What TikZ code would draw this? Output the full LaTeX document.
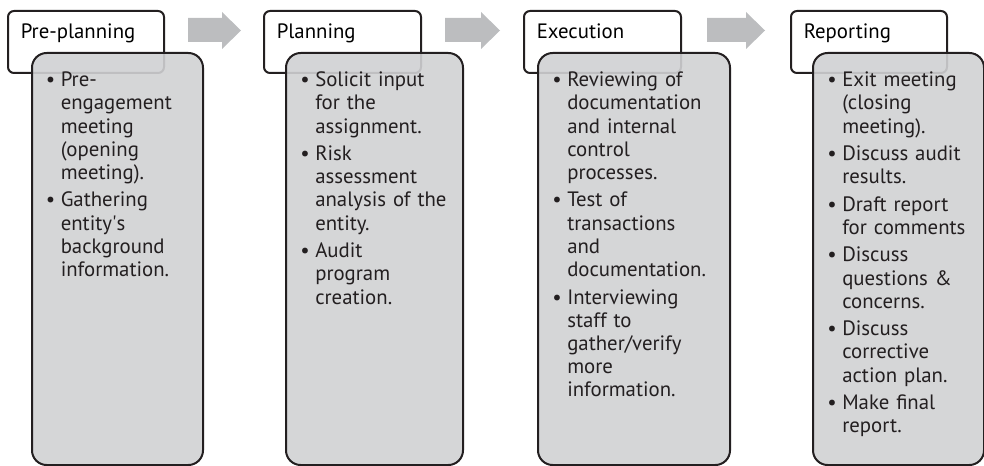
\documentclass[tikz,border=0pt]{standalone}
\usepackage{fontspec}
\setmainfont{PT Sans}
\definecolor{edge}{HTML}{231F20}
\definecolor{panel}{HTML}{D0D1D3}
\definecolor{flow}{HTML}{BCBDBF}
\newcommand{\itm}{\leavevmode\llap{\textbullet\hspace{4.2pt}}}
\begin{document}
\begin{tikzpicture}[x=0.75pt,y=-0.75pt,
  titlebox/.style={draw=edge, line width=1.5pt, fill=white, rounded corners=4.5pt,
    inner sep=0pt, anchor=north west},
  panelbox/.style={draw=edge, line width=1.5pt, fill=panel, fill opacity=0.9,
    draw opacity=1, rounded corners=11pt, inner sep=0pt, anchor=north west},
  titletext/.style={anchor=base west, inner sep=0pt,
    font=\fontsize{15.6pt}{17.4pt}\selectfont},
  itemtext/.style={anchor=base west, inner sep=0pt, text width=125pt, align=left,
    font=\fontsize{15.6pt}{17.4pt}\selectfont, text=edge},
  blockarrow/.style={fill=flow, draw=none}
]
\useasboundingbox (0,0) rectangle (984,466);

% stage headers (drawn first so the panels overlap them)
\node[titlebox, minimum width=117pt, minimum height=46.5pt] (h1) at (7,10) {};
\node[titlebox, minimum width=117.75pt, minimum height=46.5pt] (h2) at (263,10) {};
\node[titlebox, minimum width=117.75pt, minimum height=46.5pt] (h3) at (523,10) {};
\node[titlebox, minimum width=117pt, minimum height=46.5pt] (h4) at (790,10) {};

\node[titletext] (h1t) at (20.5,38.3) {Pre-planning};
\node[titletext] (h2t) at (276.5,38.3) {Planning};
\node[titletext] (h3t) at (536.5,38.3) {Execution};
\node[titletext] (h4t) at (803.5,38.3) {Reporting};

% detail panels
\node[panelbox, minimum width=128.25pt, minimum height=309pt] (p1) at (31,52) {};
\node[panelbox, minimum width=132.75pt, minimum height=309pt] (p2) at (285,52) {};
\node[panelbox, minimum width=144pt, minimum height=309pt] (p3) at (537,52) {};
\node[panelbox, minimum width=128.25pt, minimum height=309pt] (p4) at (812,52) {};

% flow arrows between stages
\foreach \xa/\xb in {188/241, 445/500, 707/765}{
  \fill[blockarrow] (\xa,18) -- (\xb-19,18) -- (\xb-19,12) -- (\xb,30.5)
    -- (\xb-19,49) -- (\xb-19,42) -- (\xa,42) -- cycle;
}

% panel contents
\node[itemtext] (l1) at (60.5,86.7) {%
  \itm Pre-\\ engagement\\ meeting\\ (opening\\ meeting).\\[3.2pt]
  \itm Gathering\\ entity\textquotesingle s\\ background\\ information.};
\node[itemtext] (l2) at (315,86.7) {%
  \itm Solicit input\\ for the\\ assignment.\\[3.2pt]
  \itm Risk\\ assessment\\ analysis of the\\ entity.\\[3.2pt]
  \itm Audit\\ program\\ creation.};
\node[itemtext] (l3) at (567,86.7) {%
  \itm Reviewing of\\ documentation\\ and internal\\ control\\ processes.\\[3.2pt]
  \itm Test of\\ transactions\\ and\\ documentation.\\[3.2pt]
  \itm Interviewing\\ staff to\\ gather/verify\\ more\\ information.};
\node[itemtext] (l4) at (842,86.7) {%
  \itm Exit meeting\\ (closing\\ meeting).\\[3.2pt]
  \itm Discuss audit\\ results.\\[3.2pt]
  \itm Draft report\\ for comments\\[3.2pt]
  \itm Discuss\\ questions \&\\ concerns.\\[3.2pt]
  \itm Discuss\\ corrective\\ action plan.\\[3.2pt]
  \itm Make final\\ report.};
\end{tikzpicture}
\end{document}
